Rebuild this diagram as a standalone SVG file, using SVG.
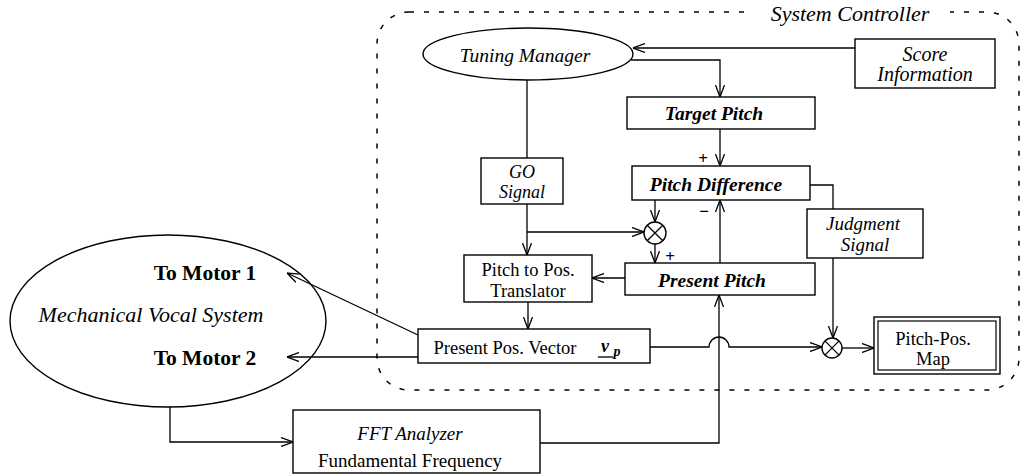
<svg xmlns="http://www.w3.org/2000/svg" width="1022" height="475" viewBox="0 0 1022 475">
<defs>
<marker id="arr" viewBox="0 0 12 10" refX="12" refY="5" markerWidth="12" markerHeight="10" markerUnits="userSpaceOnUse" orient="auto">
<path d="M0,0.5 L12,5 L0,9.5" fill="none" stroke="#000" stroke-width="1.3"/>
</marker>
<style>
.b{fill:#fff;stroke:#000;stroke-width:1.4}
.l{fill:none;stroke:#000;stroke-width:1.3}
.a{fill:none;stroke:#000;stroke-width:1.3;marker-end:url(#arr)}
text{font-family:"Liberation Serif","Times New Roman",serif;fill:#000;text-anchor:middle}
.i{font-style:italic}
.bi{font-style:italic;font-weight:bold}
.bd{font-weight:bold}
</style>
</defs>
<rect width="1022" height="475" fill="#fff"/>
<g id="container">
<rect x="377" y="12" width="642" height="378" rx="32" ry="32" fill="none" stroke="#000" stroke-width="1.5" stroke-dasharray="5 10"/>
<rect x="752" y="0" width="198" height="24" fill="#fff"/>
<text x="850" y="21" class="i" font-size="22">System Controller</text>
</g>
<g id="mechanical-vocal-system">
<ellipse cx="168" cy="321" rx="158" ry="86" fill="none" stroke="#000" stroke-width="1.4"/>
<text x="205" y="280" class="bd" font-size="21.5">To Motor 1</text>
<text x="151" y="322" class="i" font-size="22">Mechanical Vocal System</text>
<text x="205" y="365" class="bd" font-size="21.5">To Motor 2</text>
</g>
<g id="connectors">
<path class="a" d="M855,48 H633"/>
<path class="a" d="M631,60 H720 V97"/>
<path class="a" d="M720,129 V166"/>
<path class="l" d="M527,80 V158"/>
<path class="a" d="M527,204 V255"/>
<path class="a" d="M527,232 H644"/>
<path class="a" d="M655,200 V222"/>
<path class="a" d="M655,244 V263"/>
<path class="a" d="M720,263 V200"/>
<path class="l" d="M810,185 H833 V209"/>
<path class="a" d="M833,258 V338"/>
<path class="a" d="M625,278 H592"/>
<path class="a" d="M528,302 V329"/>
<path class="a" d="M418,335 L287,273"/>
<path class="a" d="M418,357 H287"/>
<path class="a" d="M170,407 V442 H293"/>
<path class="a" d="M540,443 H719 V295"/>
<path class="a" d="M650,347 H709 A10,10 0 0 1 729,347 H822"/>
<path class="a" d="M842,348 H874"/>
</g>
<g id="tuning-manager">
<ellipse class="b" cx="528" cy="54" rx="105" ry="26"/>
<text x="525" y="62" class="i" font-size="19.5">Tuning Manager</text>
</g>
<g id="score-information">
<rect class="b" x="855" y="39" width="140" height="49"/>
<text x="925" y="61" class="i" font-size="20">Score</text>
<text x="925" y="81" class="i" font-size="20">Information</text>
</g>
<g id="target-pitch">
<rect class="b" x="627" y="97" width="188" height="32"/>
<text x="714" y="120" class="bi" font-size="19.5">Target Pitch</text>
</g>
<g id="pitch-difference">
<rect class="b" x="632" y="166" width="178" height="34"/>
<text x="716" y="191" class="bi" font-size="19.5">Pitch Difference</text>
<text x="703" y="164" class="bd" font-size="17">+</text>
<text x="704" y="217" class="bd" font-size="17">−</text>
</g>
<g id="go-signal">
<rect class="b" x="481" y="158" width="82" height="46"/>
<text x="522" y="178" class="i" font-size="18">GO</text>
<text x="522" y="198" class="i" font-size="18">Signal</text>
</g>
<g id="multiplier-1">
<circle class="b" cx="655" cy="233" r="11"/>
<path class="l" d="M647.2,225.2 L662.8,240.8 M662.8,225.2 L647.2,240.8"/>
<text x="670" y="262" class="bd" font-size="17">+</text>
</g>
<g id="judgment-signal">
<rect class="b" x="807" y="209" width="116" height="49"/>
<text x="863" y="230" class="i" font-size="19">Judgment</text>
<text x="865" y="251" class="i" font-size="19">Signal</text>
</g>
<g id="present-pitch">
<rect class="b" x="625" y="263" width="190" height="32"/>
<text x="712" y="287" class="bi" font-size="19.5">Present Pitch</text>
</g>
<g id="translator">
<rect class="b" x="464" y="255" width="128" height="47"/>
<text x="528" y="276" font-size="18.5">Pitch to Pos.</text>
<text x="528" y="297" font-size="18.5">Translator</text>
</g>
<g id="present-pos-vector">
<rect class="b" x="418" y="329" width="232" height="34"/>
<text x="505" y="354" font-size="18.5">Present Pos. Vector</text>
<text x="605" y="352" class="bi" font-size="18">v</text>
<text x="617" y="356" class="bi" font-size="14">p</text>
<path class="l" d="M598,357 H613"/>
</g>
<g id="multiplier-2">
<circle class="b" cx="832" cy="348" r="10"/>
<path class="l" d="M824.9,340.9 L839.1,355.1 M839.1,340.9 L824.9,355.1"/>
</g>
<g id="pitch-pos-map">
<rect class="b" x="874" y="317" width="126" height="57"/>
<rect x="878" y="321" width="118" height="49" fill="none" stroke="#000" stroke-width="1.2"/>
<text x="933" y="345" font-size="18.5">Pitch-Pos.</text>
<text x="933" y="365" font-size="18.5">Map</text>
</g>
<g id="fft-analyzer">
<rect class="b" x="293" y="410" width="247" height="63"/>
<text x="410" y="440" class="i" font-size="19">FFT Analyzer</text>
<text x="410" y="467" font-size="19">Fundamental Frequency</text>
</g>
</svg>
